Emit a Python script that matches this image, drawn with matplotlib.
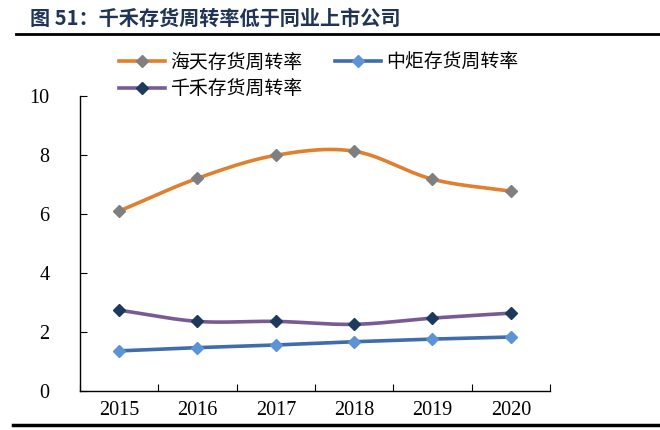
import matplotlib
matplotlib.use('Agg')
import matplotlib.pyplot as plt
from matplotlib.lines import Line2D
import numpy as np

plt.rcParams['font.family'] = ['Noto Sans CJK SC', 'DejaVu Sans']

years = ['2015', '2016', '2017', '2018', '2019', '2020']
haitian = [6.10, 7.21, 7.99, 8.13, 7.18, 6.77]
zhongju = [1.36, 1.47, 1.56, 1.67, 1.76, 1.83]
qianhe = [2.74, 2.36, 2.36, 2.26, 2.47, 2.64]

title = '图 51：千禾存货周转率低于同业上市公司'
names = ['海天存货周转率', '中炬存货周转率', '千禾存货周转率']
line_colors = ['#E07F2E', '#3F6CAB', '#7A5A94']
mark_colors = ['#7F7F7F', '#5B93D6', '#1D3A5E']


def smooth(xs, ys, n=30):
    # catmull-rom curve through the points, like excel's smoothed line
    xs = np.asarray(xs, float)
    ys = np.asarray(ys, float)
    px = np.concatenate([[2 * xs[0] - xs[1]], xs, [2 * xs[-1] - xs[-2]]])
    py = np.concatenate([[2 * ys[0] - ys[1]], ys, [2 * ys[-1] - ys[-2]]])
    outx, outy = [], []
    t = np.linspace(0, 1, n)
    for i in range(1, len(px) - 2):
        for p, out in ((px, outx), (py, outy)):
            p0, p1, p2, p3 = p[i - 1], p[i], p[i + 1], p[i + 2]
            out.extend(0.5 * (2 * p1 + (-p0 + p2) * t
                              + (2 * p0 - 5 * p1 + 4 * p2 - p3) * t ** 2
                              + (-p0 + 3 * p1 - 3 * p2 + p3) * t ** 3))
    return np.array(outx), np.array(outy)


fig = plt.figure(figsize=(6.6, 4.3), dpi=100)
ax = fig.add_axes([0.1212, 0.0907, 0.7121, 0.686])

x = np.arange(len(years))
handles = []
for vals, name, lc, mc, sm in zip([haitian, zhongju, qianhe], names,
                                  line_colors, mark_colors, [True, False, True]):
    if sm:
        sx, sy = smooth(x, vals)
    else:
        sx, sy = x, np.asarray(vals)
    ax.plot(sx, sy, color=lc, lw=2.6, solid_capstyle='round', zorder=2)
    ax.plot(x, vals, ls='none', marker='D', ms=6.5, color=mc, zorder=3)
    handles.append(Line2D([], [], color=lc, lw=2.6, marker='D', ms=6.5,
                          markerfacecolor=mc, markeredgecolor=mc))

ax.set_xlim(-0.5, len(years) - 0.5)
ax.set_ylim(0, 10)
ax.set_yticks([0, 2, 4, 6, 8, 10])
ax.set_xticks(np.arange(len(years) + 1) - 0.5, minor=False)
ax.set_xticklabels([])
ax.set_xticks(x, minor=True)
ax.set_xticklabels(years, minor=True)
ax.tick_params(axis='x', which='major', direction='in', length=5, width=0.8)
ax.tick_params(axis='x', which='minor', length=0, pad=7)
ax.tick_params(axis='y', direction='in', length=5, width=0.8, pad=22)
for lab in ax.get_xticklabels(minor=True) + ax.get_yticklabels():
    lab.set_family('Liberation Serif')
    lab.set_fontsize(14.5)
ax.spines['top'].set_visible(False)
ax.spines['right'].set_visible(False)
ax.spines['left'].set_linewidth(1.0)
ax.spines['bottom'].set_linewidth(1.0)

order = [0, 2, 1]
fig.legend([handles[i] for i in order], [names[i] for i in order],
           ncol=2, loc='upper left', bbox_to_anchor=(0.155, 0.92),
           frameon=False, fontsize=13.6, handlelength=2.4,
           columnspacing=1.75, labelspacing=0.34, handletextpad=0.3)

fig.text(0.045, 0.958, title, fontsize=14.5, fontweight='bold',
         color='#1F3456', va='center')
fig.add_artist(Line2D([0.024, 1.0], [0.922, 0.922], color='black', lw=2.0))
fig.add_artist(Line2D([0.02, 1.0], [0.012, 0.012], color='black', lw=2.5))

fig.savefig('out.png', dpi=100)
